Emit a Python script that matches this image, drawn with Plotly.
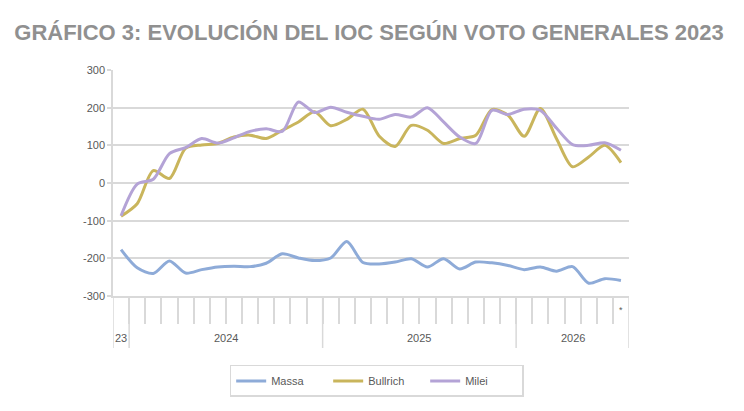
import plotly.graph_objects as go

# ---- data ----
years = ["23", "2024", "2025", "2026"]
months_per_year = [1, 12, 12, 7]
month_labels = [""] * 31 + ["*"]

massa = [-177, -225, -240, -207, -239, -230, -223, -221, -222, -213, -188, -199,
         -206, -199, -155, -211, -215, -210, -201, -223, -201, -228, -210, -212,
         -219, -230, -223, -234, -222, -266, -254, -259]
bullrich = [-88, -55, 33, 12, 92, 101, 105, 122, 127, 118, 140, 162,
            189, 152, 169, 196, 125, 97, 153, 140, 105, 118, 127, 195,
            180, 124, 198, 118, 43, 69, 100, 54]
milei = [-87, -3, 10, 78, 94, 118, 106, 120, 137, 144, 137, 215,
         187, 201, 188, 177, 169, 182, 175, 200, 162, 122, 105, 193,
         182, 196, 193, 146, 102, 100, 107, 87]
y_ticks = [-300, -200, -100, 0, 100, 200, 300]

series = [("Massa", massa, "#8eabd8"), ("Bullrich", bullrich, "#c9b55c"), ("Milei", milei, "#b4a3d6")]

n = len(massa)
xs = list(range(n))
GRID = "#d9d9d9"
TXT = "#595959"
FONT = "Liberation Sans, Arial, sans-serif"

fig = go.Figure()
for name, vals, col in series:
    fig.add_trace(go.Scatter(x=xs, y=vals, mode="lines", name=name,
                             line=dict(color=col, width=3, shape="spline", smoothing=0.8)))

boundaries = [i + 0.5 for i in range(n - 1)]

# year group boundaries
grp_edges = [-0.5]
for c in months_per_year:
    grp_edges.append(grp_edges[-1] + c)

shapes = []
for b in grp_edges:
    shapes.append(dict(type="line", xref="x", yref="paper", x0=b, x1=b, y0=0, y1=-0.23,
                       line=dict(color=GRID, width=1.5), layer="below"))

annotations = []
for i, y in enumerate(years):
    cx = (grp_edges[i] + grp_edges[i + 1]) / 2
    annotations.append(dict(x=cx, y=-0.186, xref="x", yref="paper", text=y, showarrow=False,
                            font=dict(family=FONT, size=11, color=TXT), yanchor="middle"))
for i, lab in enumerate(month_labels):
    if lab:
        annotations.append(dict(x=i, y=-0.062, xref="x", yref="paper", text=lab, showarrow=False,
                                font=dict(family=FONT, size=9, color=TXT), yanchor="middle"))

fig.update_layout(
    width=744, height=411,
    margin=dict(l=113, r=115, t=70, b=115),
    paper_bgcolor="white", plot_bgcolor="white",
    title=dict(text="<b>GRÁFICO 3: EVOLUCIÓN DEL IOC SEGÚN VOTO GENERALES 2023</b>",
               x=0.496, xanchor="center", y=1 - 32 / 411, yanchor="middle", yref="container",
               font=dict(family=FONT, size=22, color="#909090")),
    xaxis=dict(range=[-0.5, n - 0.5], showgrid=False, zeroline=False,
               showline=True, linecolor=GRID, linewidth=1.5,
               tickmode="array", tickvals=boundaries, ticktext=[""] * len(boundaries),
               ticks="outside", ticklen=26, tickcolor=GRID, tickwidth=1.5,
               showticklabels=False),
    xaxis2=dict(range=[-0.5, n - 0.5], overlaying="x", anchor="free", position=0.5,
                showgrid=False, zeroline=False, showline=False,
                tickmode="array", tickvals=boundaries + [n - 0.5],
                ticks="outside", ticklen=4, tickcolor=GRID, tickwidth=1.5,
                showticklabels=False),
    yaxis=dict(range=[-300, 300], tickmode="array", tickvals=y_ticks,
               ticktext=[str(v) for v in y_ticks],
               showgrid=True, gridcolor=GRID, gridwidth=1.5,
               zeroline=True, zerolinecolor=GRID, zerolinewidth=1.5,
               showline=True, linecolor=GRID, linewidth=1.5,
               ticks="outside", ticklen=4, tickcolor=GRID, tickwidth=1.5,
               tickfont=dict(family=FONT, size=11, color=TXT)),
    legend=dict(orientation="h", x=0.511, xanchor="center", y=-0.305, yanchor="top",
                entrywidth=52, entrywidthmode="pixels",
                bordercolor=GRID, borderwidth=1.5, bgcolor="white",
                font=dict(family=FONT, size=11, color=TXT)),
    shapes=shapes, annotations=annotations,
)

fig.write_html("out.html")
